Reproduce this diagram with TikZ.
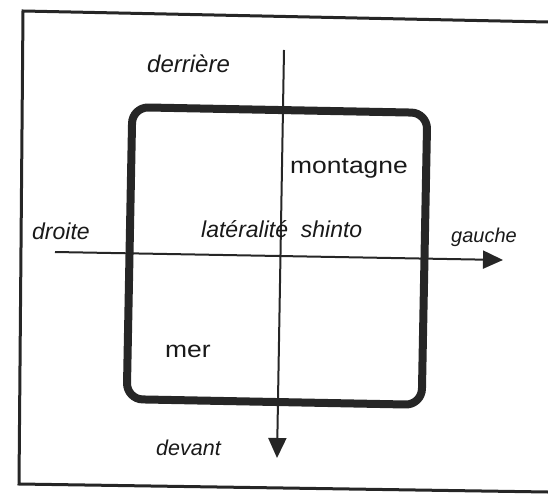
\documentclass[tikz,border=0pt]{standalone}
\usepackage{fontspec}
\setmainfont{Liberation Sans}
\newfontfamily\widesans[FakeStretch=1.15]{Liberation Sans}
\usetikzlibrary{arrows.meta}
\begin{document}
\begin{tikzpicture}[x=1pt,y=-1pt,
  ink/.style={draw=black!85},
  frameline/.style={ink, line width=3pt, line join=miter},
  axis/.style={ink, line width=2pt, -{Triangle[length=20pt,width=18pt]}, fill=black!85},
  lbl/.style={inner sep=0pt, anchor=base west, text=black!90,
              font=\itshape\fontsize{#1}{#1}\selectfont},
  word/.style={inner sep=0pt, anchor=base west, text=black!90,
               font=\widesans\fontsize{23}{23}\selectfont},
]
\useasboundingbox (0,0) rectangle (548,497);

% outer frame (open on the right)
\coordinate (ftr) at (548,22);
\coordinate (ftl) at (23,11);
\coordinate (fbl) at (19,484);
\coordinate (fbr) at (548,492);
\draw[frameline] (ftr) -- (ftl) -- (fbl) -- (fbr);

% the rounded square
\node (pays) [ink, line width=8pt, rounded corners=16pt, inner sep=0pt,
  minimum width=295pt, minimum height=292pt, rotate=-1.1] at (277,256) {};

% axes
\coordinate (haut) at (284,50);
\coordinate (bas) at (277,458);
\coordinate (gch) at (55,252);
\coordinate (drt) at (503,260);
\draw[axis] (haut) -- (bas);
\draw[axis] (gch) -- (drt);

% labels
\node (derriere) [lbl=24] at (147,73) {derrière};
\node (devant) [lbl=21.5] at (156,455) {devant};
\node (droite) [lbl=23] at (32,239) {droite};
\node (gauche) [lbl=20] at (451,242) {gauche};
\node (lat) [lbl=23] at (201,237) {latéralité\ \ shinto};
\node (montagne) [word] at (290,173) {montagne};
\node (mer) [word] at (165,357) {mer};
\end{tikzpicture}
\end{document}
